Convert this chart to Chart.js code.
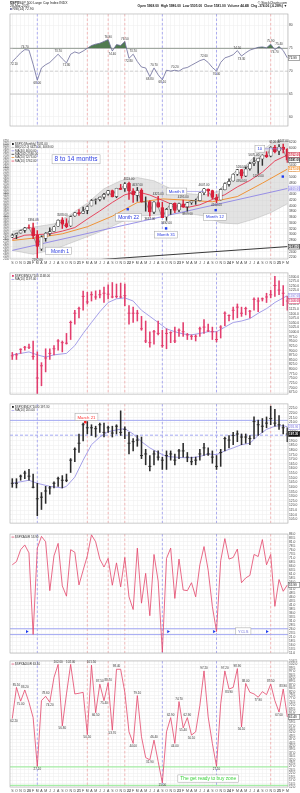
<!DOCTYPE html>
<html>
<head>
<meta charset="utf-8">
<title>$SPX monthly cycle chart</title>
<script src="https://cdn.jsdelivr.net/npm/chart.js@4.4.1/dist/chart.umd.min.js"></script>
<style>
  body { margin: 0; background: #fff; }
  #page { position: relative; width: 300px; height: 793px; overflow: hidden; }
  #page canvas { position: absolute; left: 0; }
</style>
</head>
<body>
<div id="page"></div>
<script>
// ---- data (monthly, Sep 2019 .. Mar 2025) ----
const months = ['S','O','N','D','20','F','M','A','M','J','J','A','S','O','N','D','21','F','M','A','M','J','J','A',
  'S','O','N','D','22','F','M','A','M','J','J','A','S','O','N','D','23','F','M','A','M','J','J','A',
  'S','O','N','D','24','F','M','A','M','J','J','A','S','O','N','D','25','F','M'];

// cycle marker months (dashed verticals)
const cycleIdx = [6, 18, 23, 27, 36, 49, 62];
const cycleKind = ['low', 'high', 'high', 'high', 'low', 'low', 'high'];

// top panel
const p1Vals = [72.1,73.0,74.0,74.7,74.6,71.5,68.0,70.7,71.4,71.9, 72.8,73.7,72.7,71.8,73.7,74.2,73.9,74.4,75.0,75.6,
  75.9,76.1,76.5,76.9,74.4,75.8,75.6,76.5,72.8,73.7, 72.1,70.9,70.7,68.8,70.7,69.2,68.1,70.2,70.0,70.2,
  70.0,70.6,70.8,71.3,71.8,72.3,72.6,71.9,70.8,70.0, 71.9,72.9,73.2,73.6,74.5,73.3,74.0,74.6,74.9,75.2,
  75.3,75.1,75.9,74.7,75.4,74.5,72.9];
const p1Marks = [0,3,6,11,13,23,24,27,28,29,33,34,36,39,46,49,54,55,62,63,64];

// price panel
const open = [2909,2983,3050,3144,3244,3235,2974,2499,2869,3038, 3105,3289,3508,3385,3296,3645,3765,3732,3842,3992,
  4191,4217,4300,4406,4528,4317,4611,4602,4778,4519, 4363,4541,4131,4149,3781,4112,3937,3610,3881,4087,
  3853,4070,3964,4108,4166,4181,4455,4578,4530,4284, 4201,4559,4745,4861,5098,5258,5030,5283,5471,5537,
  5624,5757,5724,6040,5903,6040,5968];
const high = [3022,3050,3154,3248,3338,3394,3137,2955,3068,3233, 3280,3514,3588,3550,3645,3760,3870,3950,3994,4218,
  4238,4302,4430,4538,4546,4608,4743,4808,4819,4595, 4637,4593,4307,4177,4141,4325,4119,3905,4080,4101,
  4095,4195,4111,4170,4231,4458,4607,4584,4542,4393, 4587,4794,4932,5111,5265,5264,5342,5506,5670,5651,
  5768,5878,6053,6100,6128,6147,5986];
const low = [2892,2855,3050,3070,3214,2855,2192,2448,2767,2966, 3101,3284,3210,3234,3279,3633,3663,3725,3723,3992,
  4057,4165,4233,4368,4306,4279,4560,4495,4223,4115, 4157,4124,3811,3637,3722,3955,3585,3492,3699,3764,
  3794,3943,3809,4049,4048,4167,4385,4336,4238,4104, 4197,4547,4683,4853,5057,4954,5012,5235,5391,5120,
  5403,5675,5697,5832,5774,5837,5505];
const close = [2977,3038,3141,3231,3226,2954,2585,2912,3044,3100, 3271,3500,3363,3270,3622,3756,3714,3811,3973,4181,
  4204,4298,4395,4523,4308,4605,4567,4766,4516,4374, 4530,4132,4132,3785,4130,3955,3586,3872,4080,3840,
  4077,3970,4109,4169,4180,4450,4589,4508,4288,4194, 4568,4770,4846,5096,5254,5036,5278,5460,5522,5648,
  5762,5705,6032,5882,6041,5955,5581];
const p2Highs = [5, 12, 28, 30, 35, 41, 46, 55, 58, 63, 65];
const p2Lows = [6, 33, 37, 42, 49, 55, 59];

const bbIdx = [0,5,10,14,18,22,26,30,34,38,42,46,50,54,58,62,66];
const bbUp = [3114,3258,3369,3703,4092,4592,4869,4980,4869,4592,4425,4369,4536,5091,5703,6147,6425];
const bbLo = [2447,2314,2481,2703,2925,3147,3425,3647,3670,3703,3736,3647,3403,3369,3536,3758,4069];
const ma10Idx = [0,3,6,9,12,15,18,21,24,27,30,33,36,39,42,45,48,51,54,57,60,63,66];
const ma10 = [2835,2977,3000,3021,3119,3242,3538,3819,4116,4382,4488,4372,4191,4004,3940,4033,4218,4383,4656,4879,5167,5558,5762];
const ma20Idx = [0,6,12,18,24,30,36,42,48,54,60,66];
const ma20 = [2794,2891,3025,3271,3639,4114,4239,4193,4138,4320,4785,5273];
const trendIdx = [0, 66];
const trend = [2450, 4600];
const longIdx = [0, 66];
const longMa = [1920, 2580];
const cycMarkX = [8.3, 27.7, 36.9, 48.8, 64.9];
const cycMarkY = [2414, 3880, 3213, 3847, 5014];

// third panel (red bars)
const p3High = [890,885,910,923,935,952,893,835,910,910, 927,960,952,993,1060,1118,1135,1222,1215,1218,
  1223,1227,1243,1255,1268,1260,1265,1260,1143,1135, 1118,1085,1060,1002,1010,1060,1010,1018,1002,1027,
  1018,1052,993,985,985,1027,1068,1043,1027,1002, 1035,1110,1093,1135,1152,1135,1135,1118,1185,1185,
  1185,1210,1227,1302,1277,1252,1193];
const p3Low = [852,852,885,902,910,852,668,710,785,852, 877,902,893,935,960,1043,1077,1118,1152,1168,
  1177,1185,1160,1180,1185,1185,1185,1143,1043,1052, 1060,1010,943,918,935,985,918,910,943,943,
  977,977,960,960,952,977,993,1002,960,947, 968,1035,1060,1068,1077,1085,1093,1077,1118,1110,
  1168,1160,1185,1193,1202,1143,1118];
const p3Close = [872,877,907,918,918,868,752,818,860,885, 910,952,943,940,1052,1102,1127,1193,1163,1202,
  1190,1202,1210,1205,1190,1193,1190,1197,1102,1102, 1102,1018,952,943,1002,993,927,993,997,952,
  1010,1002,985,977,977,1018,1027,1007,1002,960, 1027,1102,1090,1118,1135,1102,1127,1113,1177,1168,
  1180,1190,1202,1252,1227,1210,1168];
const p3MaIdx = [0,2,4,6,8,10,13,15,17,19,21,23,25,27,29,31,33,35,37,39,41,43,45,47,49,51,53,55,57,59,61,63,65,66];
const p3Ma = [877,885,893,877,865,877,885,927,993,1052,1110,1160,1180,1185,1168,1118,1085,1052,1018,1002,
  990,985,993,1002,1002,1027,1052,1060,1073,1102,1127,1160,1185,1197];

// fourth panel (black bars)
const p4High = [149,149,153,157.3,159,154,144,134,140.7,140.7, 145.7,150.7,152.3,154,170.7,182.3,197.3,209,210.7,207.3,
  205.7,209,209,205.7,205.7,207.3,222.3,205,199,192.3, 195.7,194,180.7,174,179,179,172.3,179,179,175.7,
  180.7,187.3,177.3,172.3,172.3,180.7,187.3,182.3,179,174, 180.7,194,195.7,199,200.7,197.3,197.3,195.7,215.7,212.3,
  214,215.7,227.3,224,217.3,207.3,204];
const p4Low = [139.7,139,147.3,149,147.3,139,109,115.7,122.3,132.3, 139,140.7,139,145.7,155.7,167.3,177.3,189.7,197.3,195.7,
  194,199,194,199,194,197.3,195.7,192.3,175.7,179, 184,170.7,164,157.3,164,169,159,159,169,164,
  170.7,172.3,167.3,164,164,169,174,174,165.7,159, 162.3,179,182.3,185.7,189,185.7,187.3,185.7,192.3,195.7,
  199,204,207.3,205.7,202.3,197.3,189];
const p4Close = [144,144,151.7,155,151.7,139.7,127.3,129,135.7,139, 144,149,147.3,147.3,169,180.7,187.3,207.3,204,204,
  203,207.3,199,204,198.3,205.7,199,202.3,187.3,189, 190.7,174,175.7,162.3,175.7,172.3,169,174,175.7,169,
  179,179,172.3,167.3,169,175.7,182.3,175.7,172.3,162.3, 177.3,192.3,190.7,195.7,197.3,194,194,192.3,210.7,207.3,
  205.7,209,214,209,207.3,204,197.3];
const p4MaIdx = [0,4,6,9,12,13,15,17,19,21,23,25,27,29,31,33,35,37,39,41,43,45,47,49,51,53,55,57,59,61,63,65,66];
const p4Ma = [144,147.3,144,140.7,139,140.7,150.7,169,185.7,194,199.7,201.7,203,197.3,189,182.3,177.3,173,172.3,171.7,
  171.7,173,175.7,175,179,182.3,185.7,187.3,195.7,202.3,205.7,206.3,205];
const p4MarkX = [17.5];
const p4MarkY = [210];

// fifth panel
const p5Vals = [66.6,68.6,76.1,79.1,74.1,22.7,77.1,84.5,81.1,50.3, 72.2,80.1,53.3,46.8,76.1,74.5,53.9,63.2,72.2,85.5,
  81.1,70.2,65.2,70.6,53.7,67.8,52.7,71.2,46.4,38.4, 77.1,42.4,61.2,34.5,73.1,56.3,11.5,70.6,77.1,45.4,
  70.2,50.7,50.3,55.3,46.4,66.6,78.1,63.2,40.4,24.5, 69.2,83.1,70.2,71.2,76.5,55.3,58.3,59.9,73.1,71.8,
  82.5,66.6,73.1,40.4,57.3,49.9,53.9];
const p5MarkX = [3.5, 37.4, 48.4, 61.1];
const p5MarkY = [24.5, 24.5, 24.5, 24.5];

// bottom panel
const p6Vals = [62.2,85.1,75.0,83.2,74.2,62.9,27.1,75.4,78.6,74.2, 92.4,102.0,56.8,80.3,102.0,80.3,80.8,81.5,50.5,101.5,
  66.5,87.5,75.4,88.7,53.7,98.4,98.4,81.5,52.5,44.0, 79.1,48.9,33.6,31.9,46.4,30.7,15.0,52.5,62.9,44.0,
  74.7,55.4,62.9,50.1,52.5,71.8,97.2,63.4,44.0,27.1, 73.0,97.2,83.9,85.1,98.9,56.1,88.0,81.5,80.3,77.9,
  82.0,79.8,87.5,75.4,67.0,83.9,63.4];
const p6Marks = [0,1,2,3,6,8,9,11,12,14,18,19,20,21,22,23,24,25,29,30,33,34,36,38,39,40,41,42,43,46,49,51,52,54,55,56,59,62,64,65];

// ---- drawing ----
const FONT = '"Liberation Sans", Arial, sans-serif';
const X_MIN = -0.55, X_MAX = 66.15;
const idx = months.map((_, i) => i);
const pts = (vals, xs) => vals.map((v, k) => ({ x: xs ? xs[k] : k, y: v }));
const page = document.getElementById('page');

function addCanvas(top, h) {
  const c = document.createElement('canvas');
  c.width = 300; c.height = h;
  c.style.top = top + 'px'; c.style.width = '300px'; c.style.height = h + 'px';
  page.appendChild(c);
  return c;
}

const overlay = {
  id: 'overlay',
  beforeDatasetsDraw(chart, args, o) {
    const { ctx, chartArea: a, scales: { x, y } } = chart;
    ctx.save();
    ctx.beginPath(); ctx.rect(a.left, a.top, a.right - a.left, a.bottom - a.top); ctx.clip();
    ctx.lineWidth = 0.8;
    cycleIdx.forEach((m, k) => {
      const px = x.getPixelForValue(m);
      ctx.strokeStyle = cycleKind[k] === 'low' ? 'rgba(120,120,235,0.75)' : 'rgba(235,125,125,0.65)';
      ctx.setLineDash([2.5, 2]);
      ctx.beginPath(); ctx.moveTo(px, a.top); ctx.lineTo(px, a.bottom); ctx.stroke();
    });
    (o.levels || []).forEach(l => {
      const py = y.getPixelForValue(l.v);
      ctx.strokeStyle = l.c; ctx.lineWidth = l.w || 1; ctx.setLineDash(l.dash || []);
      ctx.beginPath(); ctx.moveTo(a.left, py); ctx.lineTo(a.right, py); ctx.stroke();
    });
    ctx.restore();
  },
  afterDatasetsDraw(chart, args, o) {
    const { ctx, chartArea: a, scales: { x, y } } = chart;
    ctx.save();
    ctx.setLineDash([]);
    ctx.strokeStyle = '#a8a8a8'; ctx.lineWidth = 0.6;
    ctx.strokeRect(a.left, a.top, a.right - a.left, a.bottom - a.top);

    // value labels at turning points
    ctx.font = '3px ' + FONT; ctx.fillStyle = '#333'; ctx.textAlign = 'center';
    (o.marks || []).forEach(m => {
      m.idx.forEach(i => {
        const v = m.vals[i];
        let up = m.pos === 'above';
        if (!m.pos) {
          const p = m.vals[i - 1] ?? m.vals[i + 1], n = m.vals[i + 1] ?? m.vals[i - 1];
          up = v >= (p + n) / 2;
        }
        const px = Math.max(a.left + 4, x.getPixelForValue(i)), py = y.getPixelForValue(v);
        ctx.textBaseline = up ? 'bottom' : 'top';
        ctx.fillText(v.toFixed(2), px, py + (up ? -1.2 : 1.2));
      });
    });

    // annotation boxes
    (o.notes || []).forEach(n => {
      ctx.font = n.size + 'px ' + FONT;
      const tw = ctx.measureText(n.t).width;
      const px = x.getPixelForValue(n.x), py = y.getPixelForValue(n.y);
      const w = tw + 5, h = n.size + 2.5;
      if (n.to !== undefined) {
        ctx.strokeStyle = n.line || n.c; ctx.lineWidth = 0.6;
        ctx.beginPath(); ctx.moveTo(px + w / 2, py); ctx.lineTo(x.getPixelForValue(n.to), py); ctx.stroke();
      }
      ctx.fillStyle = '#fff'; ctx.fillRect(px - w / 2, py - h / 2, w, h);
      ctx.strokeStyle = '#a0a0a0'; ctx.lineWidth = 0.5; ctx.strokeRect(px - w / 2, py - h / 2, w, h);
      ctx.fillStyle = n.c; ctx.textAlign = 'center'; ctx.textBaseline = 'middle';
      ctx.fillText(n.t, px, py + 0.3);
    });

    // legend lines
    ctx.font = '3px ' + FONT; ctx.textAlign = 'left'; ctx.textBaseline = 'top';
    (o.legend || []).forEach((l, k) => {
      const ly = a.top + 1.5 + k * 3.4;
      ctx.fillStyle = l.c;
      if (l.sq) ctx.fillRect(a.left + 2, ly + 0.6, 1.8, 1.8);
      else ctx.fillRect(a.left + 1.5, ly + 1.2, 2.8, 0.7);
      ctx.fillStyle = '#333'; ctx.fillText(l.t, a.left + 5, ly);
    });

    // last value boxes on the right axis
    (o.boxes || []).forEach(b => {
      const py = y.getPixelForValue(b.v);
      ctx.fillStyle = b.bg || '#fff'; ctx.fillRect(a.right + 0.5, py - 2.4, 11.3, 4.8);
      ctx.strokeStyle = b.c; ctx.lineWidth = 0.5; ctx.strokeRect(a.right + 0.5, py - 2.4, 11.3, 4.8);
      ctx.fillStyle = b.fg || b.c; ctx.font = 'bold 3px ' + FONT;
      ctx.textAlign = 'left'; ctx.textBaseline = 'middle';
      ctx.fillText(b.v.toFixed(2), a.right + 1.1, py + 0.2);
    });
    ctx.restore();
  }
};

function xAxis(labels) {
  return {
    type: 'linear', min: X_MIN, max: X_MAX, offset: false,
    afterFit: s => { s.height = labels ? 6 : 0; },
    border: { display: false },
    grid: { color: '#ececec', lineWidth: 0.5, drawTicks: false, offset: false },
    ticks: {
      display: labels, stepSize: 1, autoSkip: false, maxRotation: 0, minRotation: 0, includeBounds: false, padding: 1.5,
      font: c => ({ size: 3.5, weight: (months[c.tick && c.tick.value] || '').length > 1 ? 'bold' : 'normal' }),
      color: '#444', callback: v => months[v] ?? ''
    }
  };
}

function yAxis(min, max, step, fmt, pos, w, size) {
  return {
    position: pos || 'right', min, max,
    afterFit: s => { s.width = w || 12; },
    border: { display: false },
    grid: { color: '#ececec', lineWidth: 0.5, drawTicks: false, drawOnChartArea: (pos || 'right') === 'right' },
    ticks: { stepSize: step, includeBounds: false, autoSkip: false, padding: 1, font: { size: size || 3.3 }, color: '#444', callback: fmt }
  };
}

function makeChart(canvas, datasets, scales, ov, padLeft) {
  return new Chart(canvas, {
    type: 'bar',
    data: { datasets },
    options: {
      responsive: false, animation: false, devicePixelRatio: 1,
      layout: { padding: { left: padLeft, right: 0, top: 0, bottom: 0 } },
      plugins: { legend: { display: false }, tooltip: { enabled: false }, overlay: ov },
      scales
    },
    plugins: [overlay]
  });
}

const lineSet = (data, color, width, order, extra) => Object.assign({
  type: 'line', data, borderColor: color, borderWidth: width, pointRadius: 0, tension: 0, fill: false, order
}, extra || {});

// header
(function header() {
  const c = addCanvas(0, 11), ctx = c.getContext('2d');
  ctx.fillStyle = '#222'; ctx.textBaseline = 'top';
  ctx.font = 'bold 3.6px ' + FONT; ctx.fillText('$SPX', 10, 0.8);
  ctx.font = '3.4px ' + FONT; ctx.fillText('S&P 500 Large Cap Index INDX', 19, 0.9);
  ctx.fillText('28-Mar-2025', 10, 4.2);
  ctx.fillStyle = '#6b6b99'; ctx.fillRect(10, 8.1, 1.8, 1.8);
  ctx.fillStyle = '#222'; ctx.fillText('RSI(14) ' + p1Vals[66].toFixed(2), 12.5, 7.5);
  ctx.textAlign = 'right';
  ctx.fillText('\u00a9 StockCharts.com', 287, 0.9);
  ctx.font = 'bold 3.3px ' + FONT;
  ctx.fillText('Open ' + open[66].toFixed(2) + '  High ' + high[66].toFixed(2) + '  Low ' + low[66].toFixed(2) +
    '  Close ' + close[66].toFixed(2) + '  Volume 44.4B  Chg -374.06 (-6.28%) \u25bc', 287, 4.3);
})();

// panel 1
makeChart(addCanvas(11, 118), [
  lineSet(pts(p1Vals), '#6b6b99', 0.8, 1, {
    fill: { target: { value: 75 }, above: 'rgba(72,116,72,0.95)', below: 'rgba(0,0,0,0)' }
  })
], {
  x: xAxis(false),
  y: yAxis(58, 82.5, 5, v => v)
}, {
  levels: [{ v: 75, c: '#b4b4b4', w: 1.2 }, { v: 70, c: '#c4c4c4', w: 0.8, dash: [3, 2] }, { v: 65, c: '#c8c8c8', w: 1 }],
  marks: [{ vals: p1Vals, idx: p1Marks }],
  boxes: [{ v: p1Vals[66], c: '#555' }]
}, 10);

// panel 2: price
const isRed = idx.map(i => close[i] < (i ? close[i - 1] : open[i]));
const isFilled = idx.map(i => close[i] < open[i]);
const RED = '#d8203a';
makeChart(addCanvas(137, 128), [
  lineSet(pts(bbUp, bbIdx), 'rgba(160,160,160,0.7)', 0.5, 20, { fill: '+1', backgroundColor: 'rgba(200,200,200,0.5)' }),
  lineSet(pts(bbLo, bbIdx), 'rgba(160,160,160,0.7)', 0.5, 19),
  lineSet(pts(longMa, longIdx), '#222', 0.9, 15),
  lineSet(pts(trend, trendIdx), '#8e86e6', 0.9, 14),
  lineSet(pts(ma20, ma20Idx), '#f08a24', 0.9, 13),
  lineSet(pts(ma10, ma10Idx), '#e5344f', 0.9, 12),
  lineSet(pts(close), '#333', 0.45, 11),
  { type: 'bar', data: idx.map(i => ({ x: i, y: [low[i], high[i]] })), backgroundColor: idx.map(i => isRed[i] ? RED : '#333'),
    barThickness: 0.8, grouped: false, order: 3 },
  { type: 'bar', data: idx.map(i => ({ x: i, y: [Math.min(open[i], close[i]), Math.max(open[i], close[i])] })),
    backgroundColor: idx.map(i => isFilled[i] ? (isRed[i] ? RED : '#333') : '#fff'),
    borderColor: idx.map(i => isRed[i] ? RED : '#444'), borderWidth: 0.6, borderSkipped: false,
    barThickness: 3, grouped: false, order: 2 },
  lineSet(pts(cycMarkY, cycMarkX), '#1f3df0', 0, 1, { showLine: false, pointStyle: 'rect', pointRadius: 1.7, pointBackgroundColor: '#1f3df0', pointBorderWidth: 0 })
], {
  x: xAxis(true),
  y: yAxis(2150, 6250, 200, v => v),
  yl: Object.assign(yAxis(2150, 6250, 100, v => v, 'left', 10, 2.6), {})
}, {
  marks: [{ vals: high, idx: p2Highs, pos: 'above' }, { vals: low, idx: p2Lows, pos: 'below' }],
  notes: [
    { x: 15.3, y: 5614, t: '8 to 14 months', size: 6.5, c: '#2a3be0' },
    { x: 11.1, y: 2430, t: '  Month 1', size: 5, c: '#2a3be0' },
    { x: 27.9, y: 3597, t: 'Month 22', size: 5, c: '#2a3be0' },
    { x: 36.9, y: 2997, t: 'Month 31', size: 4.3, c: '#2a3be0' },
    { x: 39.4, y: 4497, t: 'Month 8', size: 4.3, c: '#2a3be0', to: 46, line: '#8e86e6' },
    { x: 48.6, y: 3614, t: 'Month 12', size: 4.3, c: '#2a3be0' },
    { x: 59.4, y: 5980, t: '10', size: 4.3, c: '#2a3be0', to: 65, line: '#8e86e6' }
  ],
  legend: [
    { t: '$SPX (Monthly) ' + close[66].toFixed(2), c: '#111', sq: true },
    { t: 'BB(20,2.0) ' + bbUp[16] + '.00, ' + bbLo[16] + '.00', c: '#aaa' },
    { t: 'MA(40) ' + trend[1].toFixed(2), c: '#8e86e6' },
    { t: 'MA(200) ' + longMa[1].toFixed(2), c: '#222' },
    { t: 'MA(20) ' + ma20[11].toFixed(2), c: '#f08a24' },
    { t: 'MA(10) ' + ma10[22].toFixed(2), c: '#e5344f' }
  ],
  boxes: [
    { v: ma10[22], c: RED },
    { v: close[66], c: '#222' },
    { v: ma20[11], c: '#f08a24' },
    { v: trend[1], c: '#8e86e6' },
    { v: longMa[1], c: '#222' }
  ]
}, 0);

// panel 3
const PINK = '#e23d6d';
makeChart(addCanvas(268, 131), [
  lineSet(pts(p3Ma, p3MaIdx), '#9b95e6', 0.9, 5),
  { type: 'bar', data: idx.map(i => ({ x: i, y: [p3Low[i], p3High[i]] })), backgroundColor: PINK, barThickness: 0.9, grouped: false, order: 2 },
  lineSet(pts(p3Close), PINK, 0, 1, { showLine: false, pointStyle: 'line', pointRadius: 1.5, pointBorderColor: PINK, pointBorderWidth: 0.9 })
], {
  x: xAxis(false),
  y: yAxis(665, 1320, 25, v => v.toFixed(1))
}, {
  legend: [{ t: '$SPX:$INDU*100 ' + p3Close[66].toFixed(2), c: PINK, sq: true }, { t: 'MA(10) ' + p3Ma[33].toFixed(2), c: '#9b95e6' }],
  boxes: [{ v: p3Ma[33], c: '#9b95e6' }, { v: p3Close[66], c: PINK }]
}, 10);

// panel 4
makeChart(addCanvas(399, 129), [
  lineSet(pts(p4Ma, p4MaIdx), '#9b95e6', 0.9, 5),
  { type: 'bar', data: idx.map(i => ({ x: i, y: [p4Low[i], p4High[i]] })), backgroundColor: '#2a2a2a', barThickness: 0.9, grouped: false, order: 2 },
  lineSet(pts(p4Close), '#2a2a2a', 0, 1, { showLine: false, pointStyle: 'line', pointRadius: 1.5, pointBorderColor: '#2a2a2a', pointBorderWidth: 0.9 }),
  lineSet(pts(p4MarkY, p4MarkX), '#ff2020', 0, 0, { showLine: false, pointStyle: 'rect', pointRadius: 1.7, pointBackgroundColor: '#ff2020', pointBorderWidth: 0 })
], {
  x: xAxis(false),
  y: yAxis(101, 229.8, 5, v => v.toFixed(1))
}, {
  levels: [{ v: 212, c: '#a3a8f2', w: 1 }, { v: 196, c: '#a3a8f2', w: 1, dash: [3, 2] }],
  notes: [{ x: 17.8, y: 215.5, t: 'March 21', size: 4.3, c: '#ff3030' }],
  legend: [{ t: '$SPX:$NDX*1000 ' + p4Close[66].toFixed(2), c: '#222', sq: true }, { t: 'MA(10) ' + p4Ma[32].toFixed(2), c: '#9b95e6' }],
  boxes: [{ v: p4Ma[32], c: '#9b95e6' }, { v: p4Close[66], c: '#111', bg: '#111', fg: '#fff' }]
}, 10);

// panel 5
makeChart(addCanvas(530, 127), [
  lineSet(pts(p5Vals), '#e3456a', 0.8, 2),
  lineSet(pts(p5MarkY, p5MarkX), '#1f3df0', 0, 1, { showLine: false, pointStyle: 'triangle', rotation: 90, pointRadius: 1.8, pointBackgroundColor: '#1f3df0', pointBorderWidth: 0 })
], {
  x: xAxis(false),
  y: yAxis(11, 86, 2.5, v => v.toFixed(1))
}, {
  levels: [{ v: 26.3, c: '#a3a8f2', w: 1 }, { v: 22.6, c: '#a3a8f2', w: 1 }],
  notes: [{ x: 55.4, y: 24.8, t: 'YCLS', size: 4, c: '#7a7ae0' }],
  legend: [{ t: '$SPXA50R ' + p5Vals[66].toFixed(2), c: '#e3456a' }],
  boxes: [{ v: p5Vals[66], c: '#555' }]
}, 10);

// panel 6
makeChart(addCanvas(658, 135), [
  lineSet(pts(p6Vals), '#e3456a', 0.8, 1)
], {
  x: xAxis(true),
  y: yAxis(12, 104.5, 2.5, v => v.toFixed(1))
}, {
  levels: [{ v: 26.8, c: '#a6eea6', w: 1.2 }, { v: 13.2, c: '#a6eea6', w: 1.2 }],
  marks: [{ vals: p6Vals, idx: p6Marks }],
  notes: [{ x: 47, y: 18.2, t: 'The get ready to buy zone', size: 4.8, c: '#3bd13b' }],
  legend: [{ t: '$SPXA200R ' + p6Vals[66].toFixed(2), c: '#e3456a' }],
  boxes: [{ v: p6Vals[66], c: '#555' }]
}, 10);
</script>
</body>
</html>
